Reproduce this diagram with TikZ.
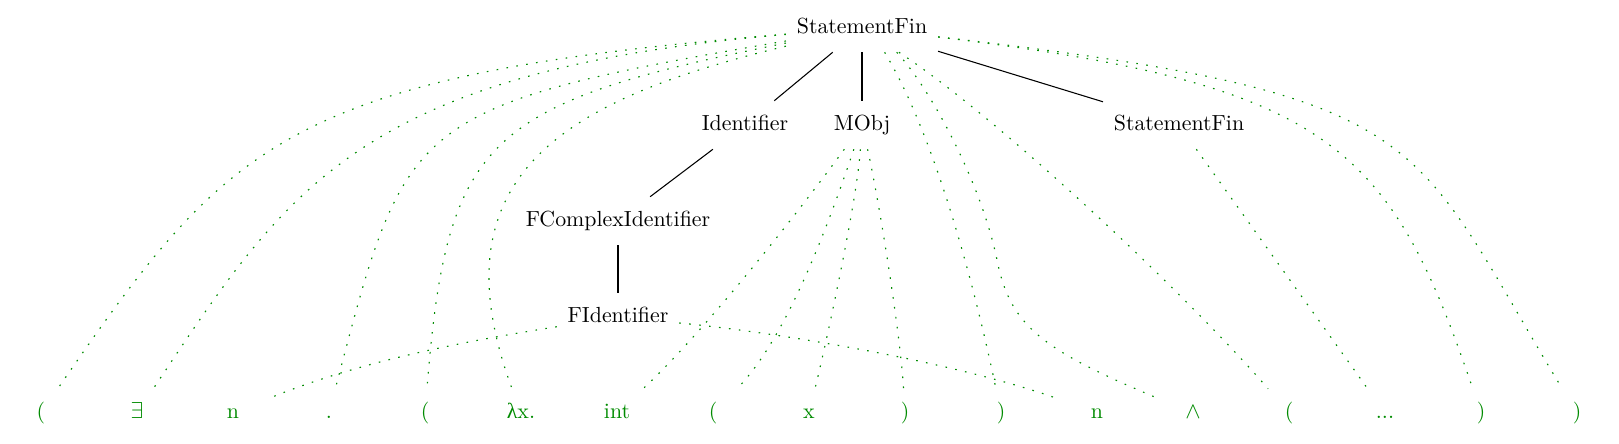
\documentclass[tikz,border=0pt]{standalone}
\usepackage{fontspec}
\setmainfont{lmroman10-regular}[Extension=.otf]
\newfontfamily\greekfont{Liberation Serif}
\definecolor{tokgreen}{RGB}{0,139,0}

\begin{document}
\begin{tikzpicture}[x=0.75pt,y=-0.75pt,
    every node/.style={font=\fontsize{16.4}{20}\selectfont,inner xsep=8pt,
      minimum width=54pt,minimum height=36pt,text height=11.5pt,text depth=3pt},
    leaf/.style={text=tokgreen},
    tree/.style={draw=black,line width=0.8pt},
    tok/.style={draw=tokgreen,line width=0.85pt,dash pattern=on 1.2pt off 6.3pt}]
  \useasboundingbox (0,0) rectangle (1619,443);
  % syntax tree
  \node (root) at (862,28) {StatementFin};
  \node (ident) at (745,125) {Identifier};
  \node (mobj) at (862,125) {MObj};
  \node (stmt) at (1179,125) {StatementFin};
  \node (fcplx) at (618,221) {FComplexIdentifier};
  \node (fid) at (618,317) {FIdentifier};
  % tokens
  \node[leaf] (t0) at (41,413) {(};
  \node[leaf] (t1) at (137,413) {$\exists$};
  \node[leaf] (t2) at (233,413) {n};
  \node[leaf] (t3) at (329,413) {.};
  \node[leaf] (t4) at (425,413) {(};
  \node[leaf] (t5) at (521,413) {{\greekfont λ}x.};
  \node[leaf] (t6) at (617,413) {int};
  \node[leaf] (t7) at (713,413) {(};
  \node[leaf] (t8) at (809,413) {x};
  \node[leaf] (t9) at (905,413) {)};
  \node[leaf] (t10) at (1001,413) {)};
  \node[leaf] (t11) at (1097,413) {n};
  \node[leaf] (t12) at (1193,413) {$\wedge$};
  \node[leaf] (t13) at (1289,413) {(};
  \node[leaf] (t14) at (1385,413) {...};
  \node[leaf] (t15) at (1481,413) {)};
  \node[leaf] (t16) at (1577,413) {)};

  \draw[tree] (root) -- (ident);
  \draw[tree] (root) -- (mobj);
  \draw[tree] (root) -- (stmt);
  \draw[tree] (ident) -- (fcplx);
  \draw[tree] (fcplx) -- (fid);

  % token links
  \draw[tok] (root) .. controls (285,75) and (228,142) .. (t0);
  \draw[tok] (root) .. controls (355,71) and (285,192) .. (t1);
  \draw[tok] (root) .. controls (405,106) and (406,119) .. (t3);
  \draw[tok] (root) .. controls (485,103) and (447,138) .. (t4);
  \draw[tok] (root) .. controls (565,99) and (433,175) .. (t5);
  \draw[tok] (root.-47.5) .. controls (936,138) and (975,288) .. (t10);
  \draw[tok] (root.-35.2) .. controls (930,88) and (981,182) .. (997,260)
    .. controls (1010,325) and (1040,349) .. (t12);
  \draw[tok] (root) .. controls (999,118) and (1188,296) .. (t13);
  \draw[tok] (root) .. controls (1330,84) and (1390,145) .. (t15);
  \draw[tok] (root) .. controls (1440,95) and (1407,133) .. (t16);
  \draw[tok] (mobj) .. controls (797,214) and (704,332) .. (t6);
  \draw[tok] (mobj) .. controls (831,217) and (788,337) .. (t7);
  \draw[tok] (mobj) .. controls (857,200) and (827,340) .. (t8);
  \draw[tok] (mobj) .. controls (878,195) and (900,330) .. (t9);
  \draw[tok] (fid) .. controls (467,341) and (363,360) .. (t2);
  \draw[tok] (fid) .. controls (782,333) and (960,363) .. (t11);
  \draw[tok] (stmt) -- (t14);
\end{tikzpicture}
\end{document}
